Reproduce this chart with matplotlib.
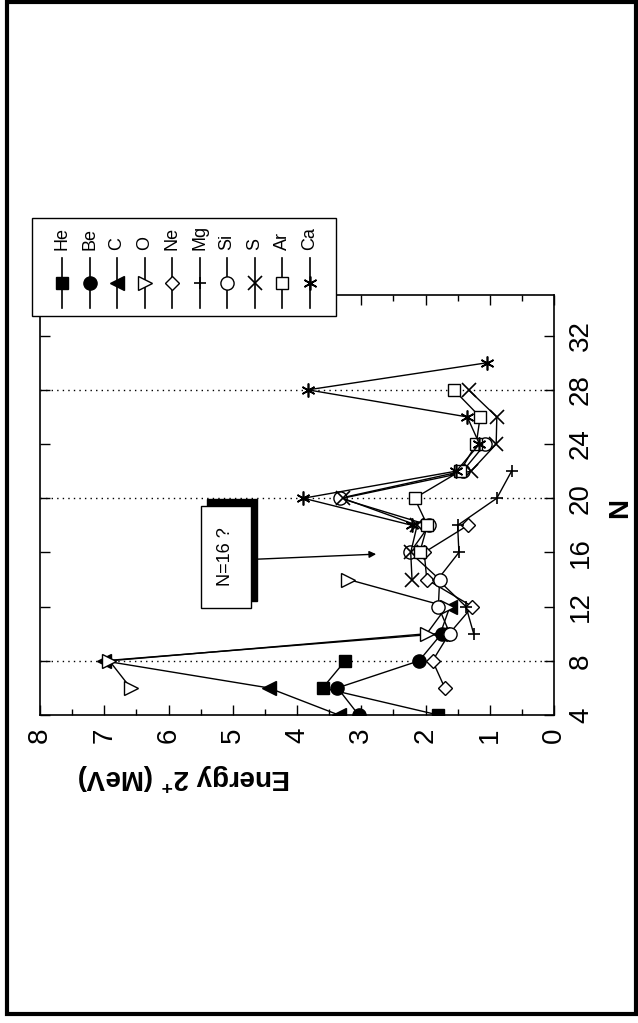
import matplotlib
matplotlib.use("Agg")
import matplotlib.pyplot as plt
from matplotlib.lines import Line2D
from matplotlib.patches import Rectangle

plt.rcParams["font.family"] = ["Liberation Sans", "DejaVu Sans"]
plt.rcParams["mathtext.fontset"] = "custom"
plt.rcParams["mathtext.rm"] = "Liberation Sans"
plt.rcParams["mathtext.bf"] = "Liberation Sans:bold"

# ── data: 2+ energy (MeV) vs neutron number N ─────────────────────────────
ELEMENTS = ["He", "Be", "C", "O", "Ne", "Mg", "Si", "S", "Ar", "Ca"]

he_n = [4, 6, 8]
he_e = [1.80, 3.60, 3.25]
be_n = [4, 6, 8, 10]
be_e = [3.04, 3.37, 2.10, 1.75]
c_n = [4, 6, 8, 10, 12]
c_e = [3.35, 4.44, 7.01, 1.77, 1.62]
o_n = [6, 8, 10, 12, 14]
o_e = [6.59, 6.92, 1.98, 1.67, 3.20]
ne_n = [6, 8, 10, 12, 14, 16, 18]
ne_e = [1.70, 1.89, 1.63, 1.27, 1.98, 2.02, 1.34]
mg_n = [10, 12, 14, 16, 18, 20, 22]
mg_e = [1.25, 1.37, 1.81, 1.48, 1.50, 0.89, 0.66]
si_n = [10, 12, 14, 16, 18, 20, 22, 24]
si_e = [1.62, 1.80, 1.78, 2.24, 1.94, 3.33, 1.42, 1.07]
s_n = [14, 16, 18, 20, 22, 24, 26, 28]
s_e = [2.21, 2.23, 2.13, 3.29, 1.29, 0.90, 0.89, 1.33]
ar_n = [16, 18, 20, 22, 24, 26, 28]
ar_e = [2.09, 1.97, 2.17, 1.46, 1.21, 1.15, 1.56]
ca_n = [18, 20, 22, 24, 26, 28, 30]
ca_e = [2.21, 3.90, 1.52, 1.16, 1.35, 3.83, 1.04]

MAGIC_N = [8, 20, 28]
N_TICKS = [4, 8, 12, 16, 20, 24, 28, 32]
E_TICKS = [0, 1, 2, 3, 4, 5, 6, 7, 8]

# chart is drawn turned a quarter turn: energy runs right->left, N runs up
STYLE = {
    "He": dict(marker="s", ms=8.5, mfc="k"),
    "Be": dict(marker="o", ms=9.5, mfc="k"),
    "C":  dict(marker="<", ms=9.5, mfc="k"),
    "O":  dict(marker=">", ms=9.5, mfc="white"),
    "Ne": dict(marker="D", ms=7.0, mfc="white"),
    "Mg": dict(marker="+", ms=8.0, mfc="none", mew=1.2),
    "Si": dict(marker="o", ms=9.5, mfc="white"),
    "S":  dict(marker="x", ms=9.5, mfc="none", mew=1.2),
    "Ar": dict(marker="s", ms=8.5, mfc="white"),
    "Ca": dict(marker=(6, 2, 0), ms=10.0, mfc="none", mew=1.2),
}
SERIES = {
    "He": (he_n, he_e), "Be": (be_n, be_e), "C": (c_n, c_e), "O": (o_n, o_e),
    "Ne": (ne_n, ne_e), "Mg": (mg_n, mg_e), "Si": (si_n, si_e), "S": (s_n, s_e),
    "Ar": (ar_n, ar_e), "Ca": (ca_n, ca_e),
}

W, H = 638, 1023
fx = lambda px: px / W
fy = lambda py: 1 - py / H

fig = plt.figure(figsize=(W / 100, H / 100), dpi=100)
ax = fig.add_axes([fx(40), fy(715), fx(554) - fx(40), fy(295) - fy(715)])

for n in MAGIC_N:
    ax.axhline(n, color="k", lw=1.0, ls=(0, (1, 3)), zorder=1)

for el in ELEMENTS:
    n, e = SERIES[el]
    st = STYLE[el]
    ax.plot(e, n, color="k", lw=1.0, mec="k", zorder=3, **st)

ax.set_xlim(8, 0)
ax.set_ylim(4, 35)
ax.set_xticks(E_TICKS)
ax.set_xticks([x + 0.5 for x in E_TICKS[:-1]], minor=True)
ax.set_yticks(N_TICKS)
ax.tick_params(axis="both", which="both", direction="in", top=True, right=True,
               left=True, bottom=True, width=1.0, labelsize=20)
ax.tick_params(which="major", length=7)
ax.tick_params(which="minor", length=4)
ax.tick_params(axis="x", labelrotation=90, pad=9)
ax.tick_params(axis="y", labelleft=False, labelright=True, labelrotation=90, pad=10)
for lab in ax.get_yticklabels():
    lab.set_va("center")
for sp in ax.spines.values():
    sp.set_linewidth(1.2)

# ── "N=16 ?" box with shadow and arrow ─────────────────────────────────────
ax.add_patch(Rectangle((0.325, 0.271), 0.097, 0.243, transform=ax.transAxes,
                       facecolor="k", edgecolor="k", zorder=4))
ax.add_patch(Rectangle((0.313, 0.255), 0.097, 0.243, transform=ax.transAxes,
                       facecolor="white", edgecolor="k", lw=1.0, zorder=5))
ax.text(0.3615, 0.3765, "N=16 ?", transform=ax.transAxes, rotation=90,
        ha="center", va="center", fontsize=13, zorder=6)
ax.annotate("", xy=(0.654, 0.383), xytext=(0.422, 0.371), xycoords="axes fraction",
            arrowprops=dict(arrowstyle="-|>", color="k", lw=1.0, mutation_scale=10,
                            shrinkA=0, shrinkB=0), zorder=6)

# ── axis titles ────────────────────────────────────────────────────────────
fig.text(fx(184), fy(777), r"Energy 2$^{\mathbf{+}}$ (MeV)", rotation=180,
         ha="center", va="center", fontsize=20, fontweight="bold")
fig.text(fx(620), fy(508), "N", rotation=90, ha="center", va="center",
         fontsize=20, fontweight="bold")

# ── legend, turned like the chart ──────────────────────────────────────────
fig.add_artist(Rectangle((fx(32), fy(316)), fx(336) - fx(32), fy(218) - fy(316),
                         transform=fig.transFigure, facecolor="white",
                         edgecolor="k", lw=1.0, zorder=10))
for i, el in enumerate(ELEMENTS):
    x = fx(62 + 27.5 * i)
    fig.add_artist(Line2D([x, x], [fy(308), fy(258)], transform=fig.transFigure,
                          color="k", lw=1.2, zorder=11))
    fig.add_artist(Line2D([x], [fy(283)], transform=fig.transFigure, color="k",
                          mec="k", zorder=12, ls="none", **STYLE[el]))
    fig.text(x, fy(250), el, rotation=90, ha="center", va="bottom",
             fontsize=13, zorder=12)

# ── outer frame ────────────────────────────────────────────────────────────
fig.add_artist(Rectangle((fx(7), fy(1014)), fx(636) - fx(7), fy(2) - fy(1014),
                         transform=fig.transFigure, fill=False, edgecolor="k", lw=3))

fig.savefig("out.png", dpi=100)
